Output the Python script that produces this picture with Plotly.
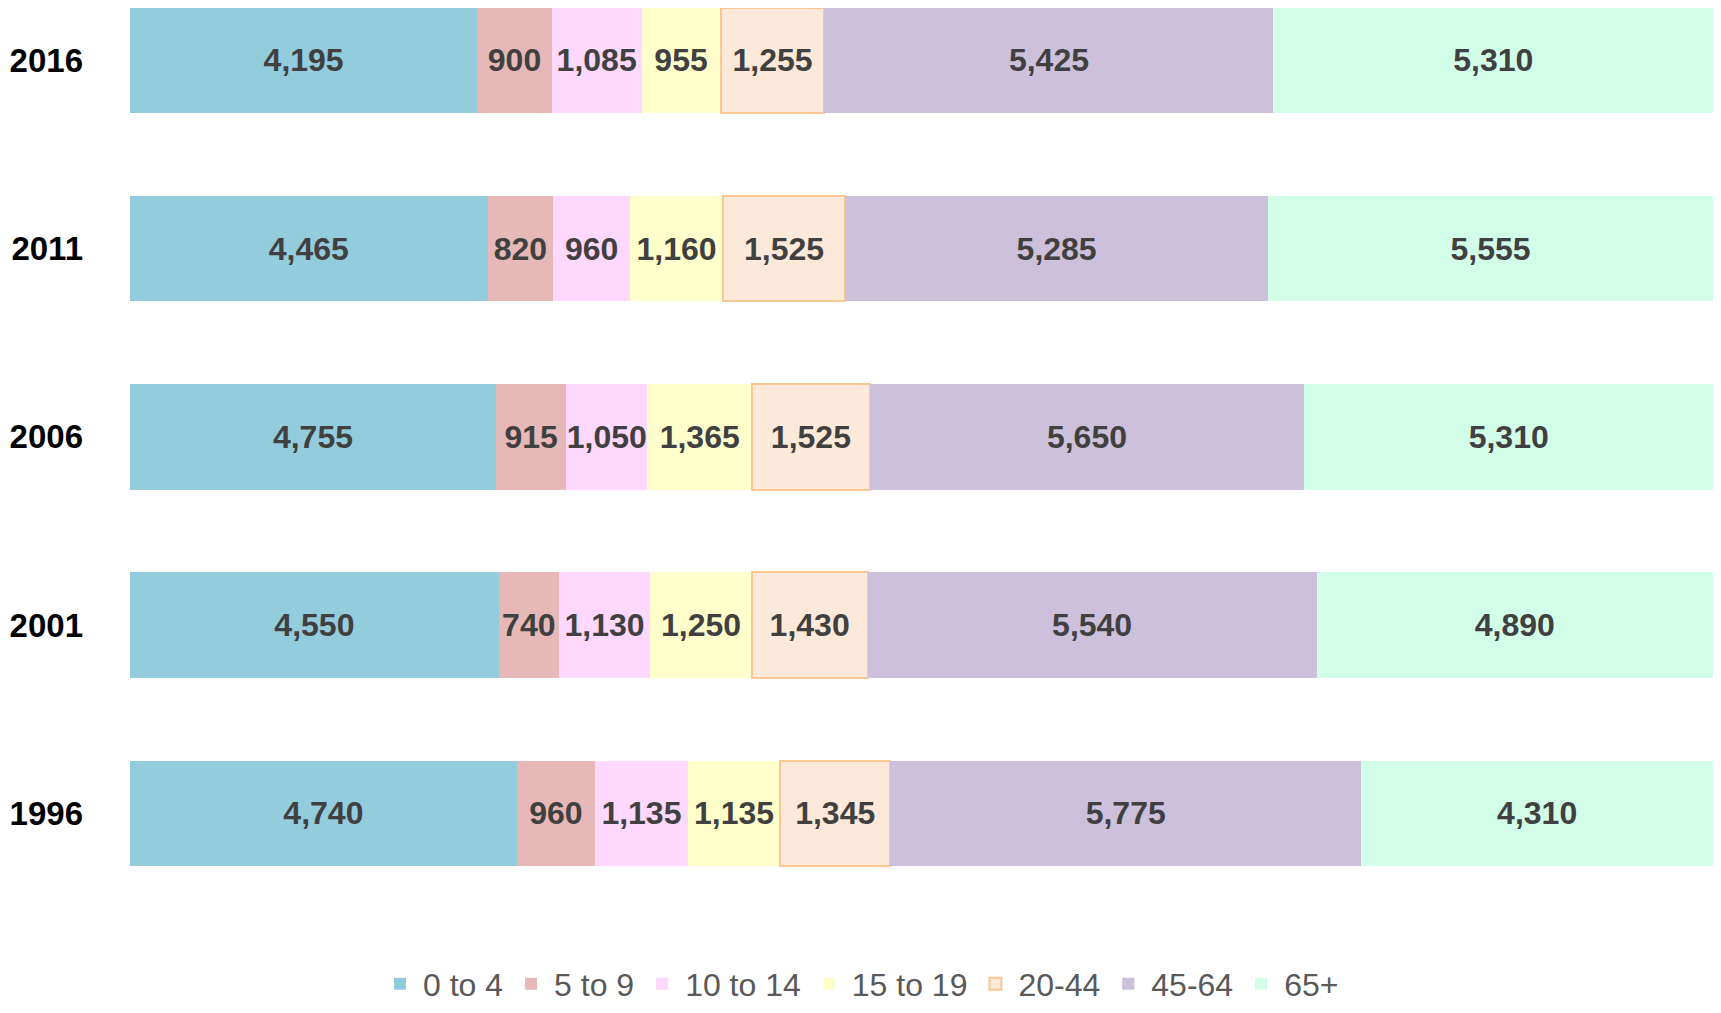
import plotly.graph_objects as go

years = ["1996", "2001", "2006", "2011", "2016"]
groups = ["0 to 4", "5 to 9", "10 to 14", "15 to 19", "20-44", "45-64", "65+"]
v_0_4 = [4740, 4550, 4755, 4465, 4195]
v_5_9 = [960, 740, 915, 820, 900]
v_10_14 = [1135, 1130, 1050, 960, 1085]
v_15_19 = [1135, 1250, 1365, 1160, 955]
v_20_44 = [1345, 1430, 1525, 1525, 1255]
v_45_64 = [5775, 5540, 5650, 5285, 5425]
v_65 = [4310, 4890, 5310, 5555, 5310]
series = [v_0_4, v_5_9, v_10_14, v_15_19, v_20_44, v_45_64, v_65]

colors = ["#93CCDD", "#E6B8B7", "#FED8FE", "#FFFFCC", "#FDE9D9", "#CCC0DA", "#D1FDE9"]
line_colors = [None, None, None, None, "#FAC691", None, None]

fig = go.Figure()
for name, vals, col, lc in zip(groups, series, colors, line_colors):
    fig.add_trace(go.Bar(
        y=years, x=vals, name=name, orientation="h",
        marker=dict(color=col, line=dict(color=lc if lc else col, width=2 if lc else 0)),
        text=[f"{v:,}" for v in vals], texttemplate="%{text}",
        textposition="inside", insidetextanchor="middle", textangle=0,
        textfont=dict(family="Liberation Sans, Arial, sans-serif", size=32, color="#404040", weight="bold"),
        hoverinfo="skip",
    ))

fig.update_layout(
    width=1705, height=997,
    barmode="stack", barnorm="percent", bargap=0.44,
    plot_bgcolor="white", paper_bgcolor="white",
    margin=dict(l=122, r=0, t=0, b=107),
    uniformtext=dict(minsize=32, mode="show"),
    xaxis=dict(visible=False, range=[0, 100], fixedrange=True),
    yaxis=dict(type="category", range=[-0.450, 4.2784], showgrid=False, zeroline=False,
               ticks="", ticklabelstandoff=46,
               tickfont=dict(family="Liberation Sans, Arial, sans-serif", size=33, color="#000000", weight="bold")),
    showlegend=True,
    legend=dict(orientation="h", xref="container", yref="container", x=0.5, xanchor="center",
                y=0.021, yanchor="middle", traceorder="normal", itemwidth=36,
                bgcolor="rgba(0,0,0,0)", tracegroupgap=0,
                font=dict(family="Liberation Sans, Arial, sans-serif", size=32, color="#595959")),
)

fig.write_html("out.html")
